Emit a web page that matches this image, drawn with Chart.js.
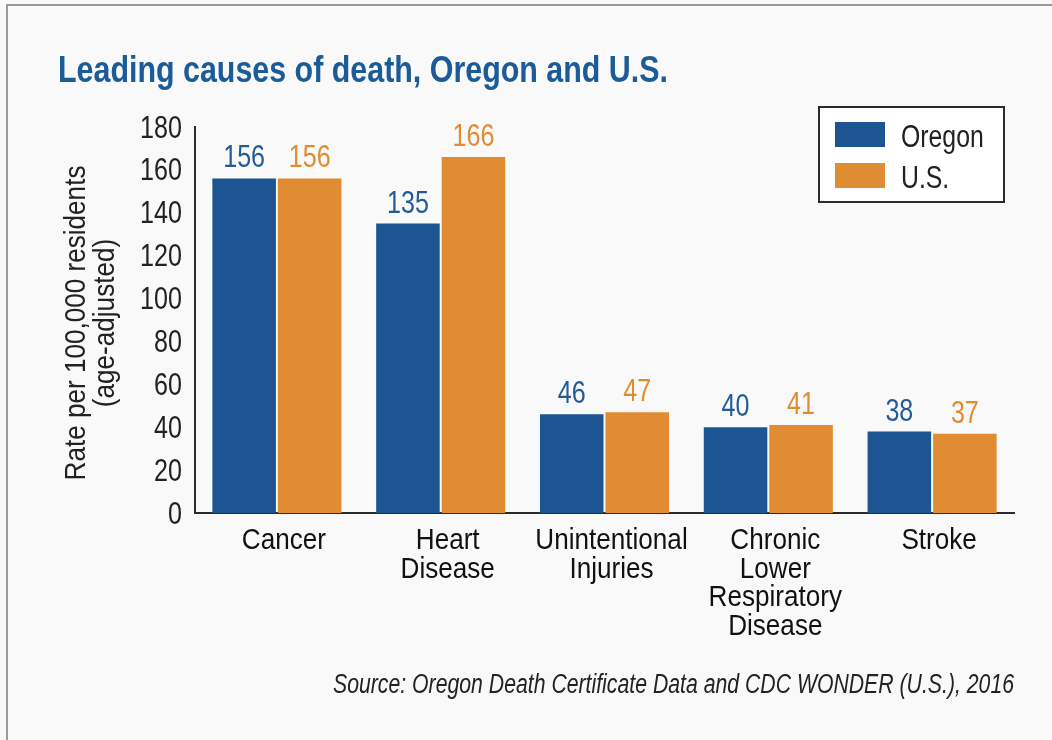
<!DOCTYPE html>
<html>
<head>
<meta charset="utf-8">
<title>Leading causes of death, Oregon and U.S.</title>
<script src="https://cdn.jsdelivr.net/npm/chart.js@4/dist/chart.umd.min.js"></script>
<style>
  html, body { margin: 0; padding: 0; background: #f9f9f9; }
  #wrap { position: relative; width: 1052px; height: 740px; overflow: hidden; }
  #frame { position: absolute; left: 6px; top: 4px; width: 1100px; height: 800px;
           border-left: 2px solid #9a9a9a; border-top: 2px solid #9a9a9a; box-sizing: border-box; }
  canvas { position: absolute; left: 0; top: 0; }
</style>
</head>
<body>
<div id="wrap">
  <div id="frame"></div>
  <canvas id="chart" width="1052" height="740"></canvas>
</div>
<script>
// data
const causes = [
  ["Cancer"],
  ["Heart", "Disease"],
  ["Unintentional", "Injuries"],
  ["Chronic", "Lower", "Respiratory", "Disease"],
  ["Stroke"]
];
const oregonRates = [156, 135, 46, 40, 38];
const usRates = [156, 166, 47, 41, 37];
const yTicks = [0, 20, 40, 60, 80, 100, 120, 140, 160, 180];

const FONT = "'Liberation Sans', Arial, sans-serif";
const BLUE = "#1c5592";
const ORANGE = "#e08c33";
const TITLE_BLUE = "#1b5b97";
// squeeze factors to get a condensed look out of a regular face
const SX_NUM = 0.81;
const SX_TXT = 0.87;

// draw text squeezed horizontally around its anchor
function squeezed(ctx, text, x, y, sx, align, rot) {
  ctx.save();
  ctx.translate(x, y);
  if (rot) ctx.rotate(rot);
  ctx.scale(sx, 1);
  ctx.textAlign = align;
  ctx.textBaseline = "alphabetic";
  ctx.fillText(text, 0, 0);
  ctx.restore();
}

// squeeze factor so that text fills a given width
function fitSx(ctx, text, width) {
  return width / ctx.measureText(text).width;
}

const extras = {
  id: "extras",
  afterDatasetsDraw(chart) {
    const ctx = chart.ctx;
    const area = chart.chartArea;
    const xs = chart.scales.x;
    const ys = chart.scales.y;
    ctx.save();

    // y tick labels
    ctx.fillStyle = "#222";
    ctx.font = "31px " + FONT;
    yTicks.forEach(v => {
      squeezed(ctx, String(v), area.left - 13, ys.getPixelForValue(v) + 10.5, SX_NUM, "right");
    });

    // y axis title, two rotated lines
    ctx.font = "30px " + FONT;
    const midY = (area.top + area.bottom) / 2 + 3;
    const yTitle = ["Rate per 100,000 residents", "(age-adjusted)"];
    yTitle.forEach((line, i) => {
      squeezed(ctx, line, 85 + i * 29, midY, SX_TXT, "center", -Math.PI / 2);
    });

    // category labels, one or more lines each
    ctx.fillStyle = "#111";
    ctx.font = "30px " + FONT;
    causes.forEach((lines, i) => {
      const cx = xs.getPixelForValue(i) + 7;
      lines.forEach((line, k) => {
        squeezed(ctx, line, cx, area.bottom + 36 + k * 28.7, SX_TXT, "center");
      });
    });

    // numbers on top of the bars
    ctx.font = "31px " + FONT;
    chart.data.datasets.forEach((ds, i) => {
      const meta = chart.getDatasetMeta(i);
      ctx.fillStyle = ds.labelColor;
      meta.data.forEach((bar, j) => {
        squeezed(ctx, String(ds.data[j]), bar.x, bar.y - 11, SX_NUM, "center");
      });
    });

    // title
    const title = "Leading causes of death, Oregon and U.S.";
    ctx.fillStyle = TITLE_BLUE;
    ctx.font = "bold 37px " + FONT;
    squeezed(ctx, title, 58, 82, fitSx(ctx, title, 610), "left");

    // source
    const source = "Source: Oregon Death Certificate Data and CDC WONDER (U.S.), 2016";
    ctx.fillStyle = "#222";
    ctx.font = "italic 27px " + FONT;
    squeezed(ctx, source, area.right, 693, fitSx(ctx, source, 681), "right");

    // legend box
    const bx = area.right - 195, by = area.top - 20, bw = 185, bh = 95;
    ctx.fillStyle = "#ffffff";
    ctx.fillRect(bx, by, bw, bh);
    ctx.strokeStyle = "#2a2a2a";
    ctx.lineWidth = 2;
    ctx.strokeRect(bx, by, bw, bh);
    ctx.font = "31px " + FONT;
    chart.data.datasets.forEach((ds, i) => {
      const sy = by + 15 + i * 41;
      ctx.fillStyle = ds.backgroundColor;
      ctx.fillRect(bx + 16, sy, 50, 25);
      ctx.fillStyle = "#222";
      squeezed(ctx, ds.label, bx + 82, sy + 25, 0.8, "left");
    });

    ctx.restore();
  }
};

new Chart(document.getElementById("chart"), {
  type: "bar",
  data: {
    labels: causes,
    datasets: [
      { label: "Oregon", data: oregonRates, backgroundColor: BLUE, labelColor: "#235a97" },
      { label: "U.S.", data: usRates, backgroundColor: ORANGE, labelColor: ORANGE }
    ]
  },
  options: {
    responsive: false,
    animation: false,
    events: [],
    layout: { padding: { top: 127, right: 38, bottom: 87, left: 0 } },
    datasets: {
      bar: { categoryPercentage: 0.8, barPercentage: 0.97 }
    },
    plugins: {
      legend: { display: false },
      tooltip: { enabled: false }
    },
    scales: {
      x: {
        grid: { display: false, drawTicks: false },
        border: { display: true, color: "#2b2b2b", width: 2 },
        ticks: { display: false },
        afterFit(scale) { scale.height = 140; }
      },
      y: {
        min: 0,
        max: 180,
        afterBuildTicks(scale) { scale.ticks = yTicks.map(v => ({ value: v })); },
        grid: { display: false, drawTicks: false },
        border: { display: true, color: "#2b2b2b", width: 2 },
        ticks: { display: false },
        afterFit(scale) { scale.width = 195; }
      }
    }
  },
  plugins: [extras]
});
</script>
</body>
</html>
